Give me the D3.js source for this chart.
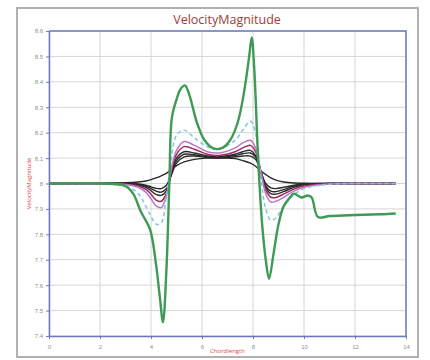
<!DOCTYPE html>
<html>
<head>
<meta charset="utf-8">
<script src="https://cdn.jsdelivr.net/npm/d3@7"></script>
<style>
  body { margin: 0; background: #fff; }
  svg { display: block; font-family: "Open Sans", "Noto Sans", sans-serif; }
</style>
</head>
<body>
<svg id="chart" width="430" height="360"></svg>
<script>
// tick labels
const xTicks = [0, 2, 4, 6, 8, 10, 12, 14];
const yTicks = [7.4, 7.5, 7.6, 7.7, 7.8, 7.9, 8, 8.1, 8.2, 8.3, 8.4, 8.5, 8.6];

// green (coarsest) series has its own chord positions
const greenX = [0, 2, 3, 3.3, 3.6, 3.96, 4.2, 4.35, 4.47, 4.6, 4.72, 4.82, 5.0, 5.15, 5.33, 5.5, 5.8, 6.1, 6.45, 6.8, 7.1, 7.4, 7.65, 7.85, 7.95, 8.05, 8.2, 8.35, 8.5, 8.63, 8.8, 9.0, 9.2, 9.45, 9.6, 9.9, 10.15, 10.3, 10.55, 11, 12, 13, 13.6];
const greenY = [8.0, 8.0, 7.99, 7.96, 7.89, 7.82, 7.68, 7.55, 7.455, 7.65, 8.0, 8.26, 8.33, 8.37, 8.386, 8.35, 8.24, 8.17, 8.138, 8.14, 8.17, 8.24, 8.36, 8.5, 8.575, 8.45, 8.1, 7.85, 7.7, 7.625, 7.72, 7.84, 7.91, 7.945, 7.96, 7.945, 7.953, 7.945, 7.868, 7.872, 7.876, 7.879, 7.882];

// shared chord positions for the finer series
const chord = [0, 1, 2, 3, 3.5, 3.8, 4.0, 4.2, 4.4, 4.6, 4.8, 5.0, 5.3, 5.7, 6.2, 6.5, 6.8, 7.3, 7.6, 7.9, 8.1, 8.3, 8.5, 8.7, 8.9, 9.2, 9.6, 10, 10.5, 11, 12, 13, 13.6];
const cyanY    = [8, 8, 7.999, 7.99, 7.96, 7.91, 7.87, 7.84, 7.845, 7.95, 8.10, 8.19, 8.21, 8.18, 8.145, 8.135, 8.14, 8.17, 8.21, 8.245, 8.2, 8.03, 7.9, 7.855, 7.865, 7.91, 7.955, 7.98, 7.992, 7.997, 8, 8, 8];
const violetY  = [8, 8, 7.999, 7.996, 7.985, 7.965, 7.94, 7.912, 7.905, 7.95, 8.06, 8.13, 8.165, 8.15, 8.125, 8.12, 8.122, 8.14, 8.16, 8.17, 8.14, 8.05, 7.96, 7.927, 7.93, 7.945, 7.97, 7.985, 7.993, 7.998, 8, 8, 8];
const crimsonY = [8, 8, 7.999, 7.997, 7.99, 7.977, 7.958, 7.935, 7.93, 7.96, 8.05, 8.115, 8.145, 8.135, 8.115, 8.11, 8.112, 8.125, 8.14, 8.15, 8.125, 8.05, 7.975, 7.946, 7.945, 7.958, 7.978, 7.99, 7.996, 7.999, 8, 8, 8];
const black1Y  = [8, 8, 7.999, 7.998, 7.994, 7.985, 7.972, 7.957, 7.953, 7.97, 8.04, 8.1, 8.125, 8.12, 8.108, 8.105, 8.106, 8.115, 8.125, 8.13, 8.11, 8.05, 7.985, 7.96, 7.958, 7.968, 7.985, 7.995, 7.998, 8, 8, 8, 8];
const black2Y  = [8, 8, 8, 7.999, 7.996, 7.99, 7.98, 7.97, 7.966, 7.98, 8.035, 8.09, 8.115, 8.113, 8.105, 8.103, 8.104, 8.11, 8.117, 8.12, 8.105, 8.05, 7.99, 7.97, 7.968, 7.976, 7.99, 7.997, 7.999, 8, 8, 8, 8];
const black3Y  = [8, 8, 8, 8, 7.998, 7.993, 7.987, 7.981, 7.98, 7.993, 8.035, 8.08, 8.105, 8.108, 8.102, 8.1, 8.1, 8.105, 8.108, 8.108, 8.095, 8.05, 8.0, 7.983, 7.98, 7.985, 7.993, 7.998, 8, 8, 8, 8, 8];
const black4Y  = [8, 8, 8.001, 8.003, 8.006, 8.01, 8.015, 8.022, 8.03, 8.04, 8.055, 8.07, 8.085, 8.095, 8.1, 8.1, 8.1, 8.098, 8.09, 8.08, 8.068, 8.05, 8.035, 8.022, 8.013, 8.006, 8.002, 8.001, 8, 8, 8, 8, 8];

const series = [
  { xs: chord, ys: black4Y, color: "#2a2a2a", width: 1.4 },
  { xs: chord, ys: black3Y, color: "#2a2a2a", width: 1.4 },
  { xs: chord, ys: black2Y, color: "#2a2a2a", width: 1.4 },
  { xs: chord, ys: black1Y, color: "#2a2a2a", width: 1.4 },
  { xs: chord, ys: crimsonY, color: "#a3285a", width: 1.5 },
  { xs: chord, ys: violetY, color: "#b57ac6", width: 1.5 },
  { xs: chord, ys: cyanY, color: "#7cc6e4", width: 1.5, dash: "4,3" },
  { xs: greenX, ys: greenY, color: "#3f9a55", width: 2.4 }
];

const svg = d3.select("#chart");
const margin = { left: 49, right: 24, top: 31, bottom: 24 };
const W = 430, H = 360;

// outer frame
svg.append("rect")
  .attr("x", 17).attr("y", 8)
  .attr("width", 401).attr("height", 349)
  .attr("fill", "none")
  .attr("stroke", "#b0b0b0")
  .attr("stroke-width", 2);

const x = d3.scaleLinear().domain([0, 14]).range([margin.left, W - margin.right]);
const y = d3.scaleLinear().domain([7.4, 8.6]).range([H - margin.bottom, margin.top]);

// grid
svg.append("g")
  .selectAll("line")
  .data(xTicks)
  .join("line")
  .attr("x1", d => x(d)).attr("x2", d => x(d))
  .attr("y1", y(7.4)).attr("y2", y(8.6))
  .attr("stroke", "#d6d6d6");
svg.append("g")
  .selectAll("line")
  .data(yTicks)
  .join("line")
  .attr("x1", x(0)).attr("x2", x(14))
  .attr("y1", d => y(d)).attr("y2", d => y(d))
  .attr("stroke", "#d6d6d6");

// axes
const xAxis = svg.append("g")
  .attr("transform", `translate(0,${y(7.4)})`)
  .call(d3.axisBottom(x).tickValues(xTicks).tickFormat(d3.format("d")).tickSize(3).tickSizeOuter(0));
const yAxis = svg.append("g")
  .attr("transform", `translate(${x(0)},0)`)
  .call(d3.axisLeft(y).tickValues(yTicks).tickFormat(d => d === 8 ? "8" : d3.format(".1f")(d)).tickSize(3).tickSizeOuter(0));
[xAxis, yAxis].forEach(g => {
  g.select(".domain").attr("stroke", "#6b78c4").attr("stroke-width", 1.5);
  g.selectAll(".tick line").attr("stroke", "#6b78c4");
  g.selectAll(".tick text").attr("fill", "#86988a").style("font-size", "6px");
});
xAxis.selectAll(".tick text").attr("dy", "1.1em");

// top / right border
svg.append("path")
  .attr("d", `M${x(0)},${y(8.6)}H${x(14)}V${y(7.4)}`)
  .attr("fill", "none")
  .attr("stroke", "#6b78c4")
  .attr("stroke-width", 1.5);

// lines
const clip = svg.append("clipPath").attr("id", "clip")
  .append("rect")
  .attr("x", x(0)).attr("y", y(8.6))
  .attr("width", x(14) - x(0)).attr("height", y(7.4) - y(8.6));

const line = d3.line()
  .x(d => x(d[0]))
  .y(d => y(d[1]))
  .curve(d3.curveCatmullRom.alpha(0.5));

svg.append("g")
  .attr("clip-path", "url(#clip)")
  .selectAll("path")
  .data(series)
  .join("path")
  .attr("d", s => line(s.xs.map((v, i) => [v, s.ys[i]])))
  .attr("fill", "none")
  .attr("stroke", s => s.color)
  .attr("stroke-width", s => s.width)
  .attr("stroke-dasharray", s => s.dash || null)
  .attr("stroke-linejoin", "round");

// titles
svg.append("text")
  .attr("x", 227).attr("y", 24)
  .attr("text-anchor", "middle")
  .attr("fill", "#a23a3a")
  .style("font-size", "12.5px")
  .text("VelocityMagnitude");

svg.append("text")
  .attr("x", x(7)).attr("y", 353)
  .attr("text-anchor", "middle")
  .attr("fill", "#e04848")
  .style("font-size", "6px")
  .text("Chordlength");

svg.append("text")
  .attr("transform", `translate(31,${y(8)}) rotate(-90)`)
  .attr("text-anchor", "middle")
  .attr("fill", "#e04848")
  .style("font-size", "6px")
  .text("VelocityMagnitude");
</script>
</body>
</html>
